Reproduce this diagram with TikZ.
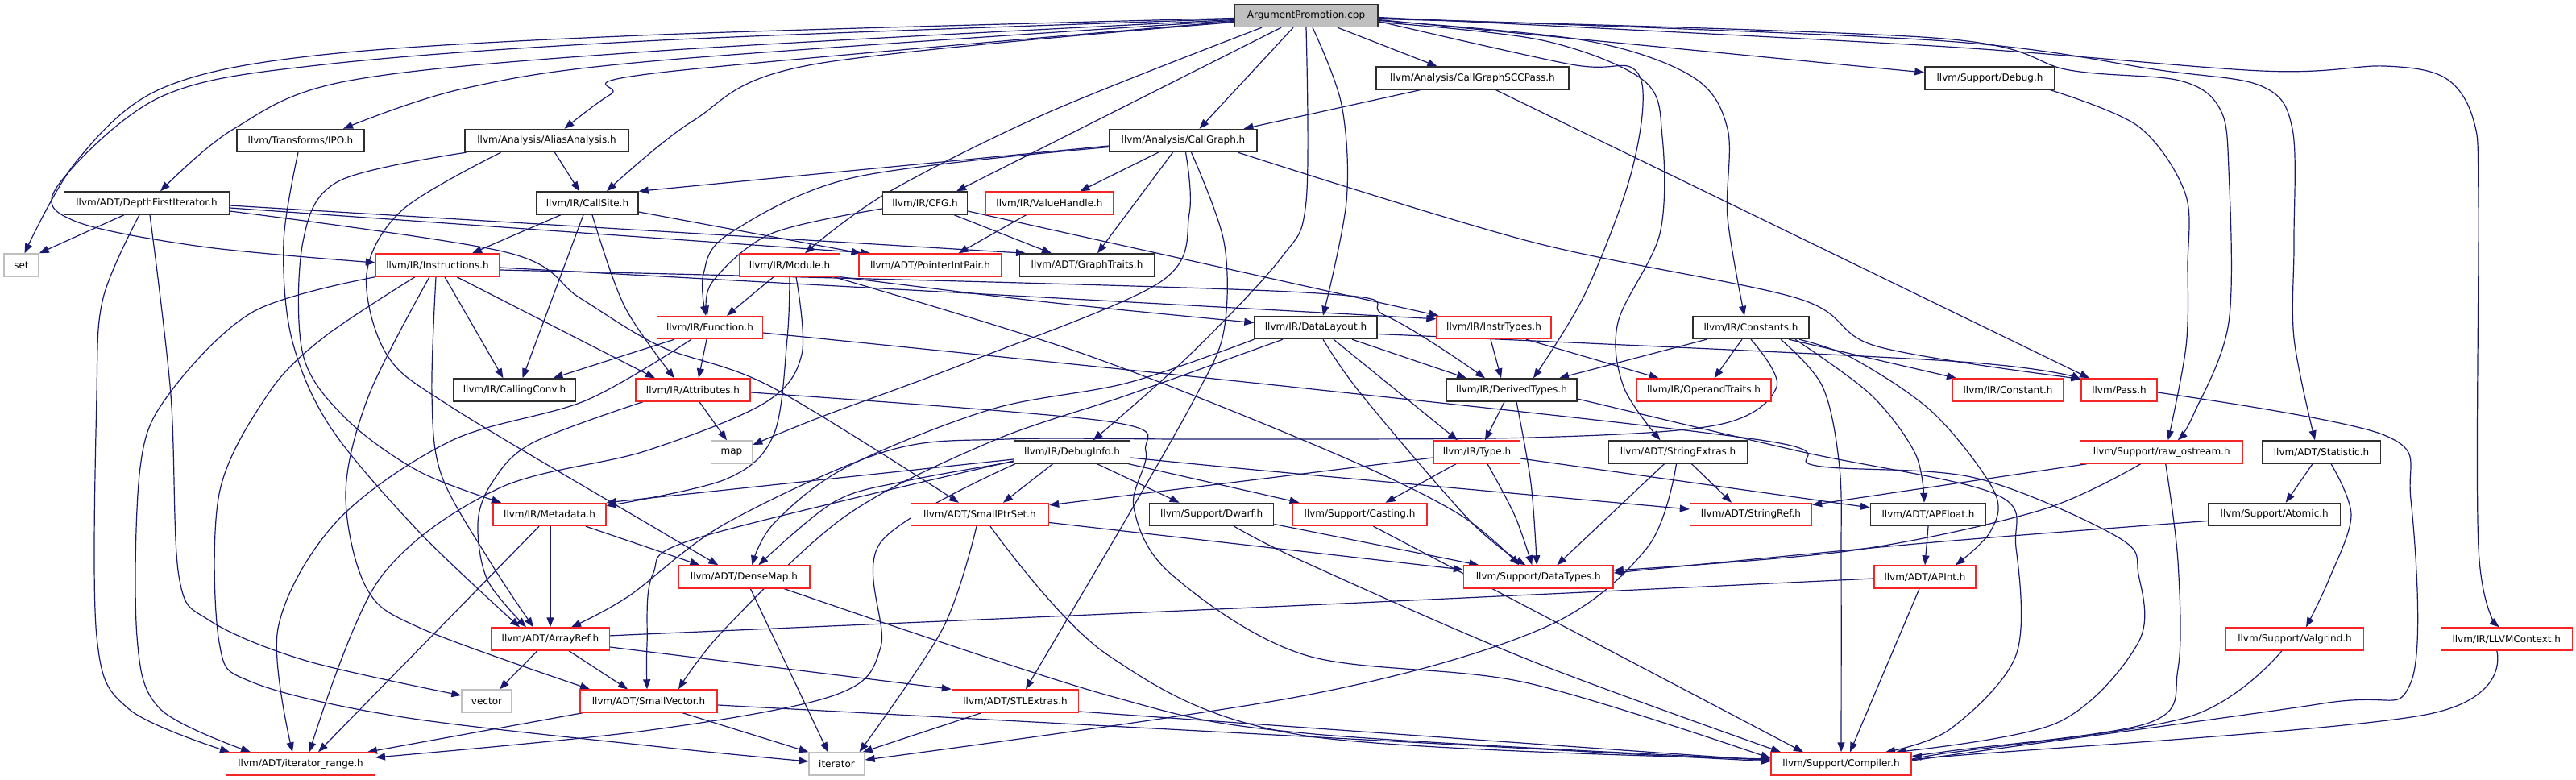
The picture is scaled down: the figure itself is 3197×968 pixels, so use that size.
\documentclass[tikz,border=0pt]{standalone}
\usepackage{fontspec}
\setmainfont{DejaVu Sans}
\usetikzlibrary{arrows.meta}
\definecolor{edgec}{HTML}{191970}
\definecolor{nred}{HTML}{F52525}
\definecolor{nblk}{HTML}{2E2E2E}
\definecolor{ngry}{HTML}{BFBFBF}
\pgfdeclarelayer{bg}
\pgfsetlayers{bg,main}
\tikzset{
  nd/.style={draw=nblk, line width=1.4pt, minimum height=28pt, inner sep=0pt, fill=white, font=\fontsize{12}{14}\selectfont},
  bk/.style={nd},
  rd/.style={nd, draw=nred},
  gr/.style={nd, draw=ngry},
  e/.style={draw=edgec, line width=1.2pt, -{Triangle[length=12pt,width=9pt]}},
}
\newcommand\edg[1]{\draw[e] plot[smooth,tension=.55] coordinates {#1};}
\begin{document}
\begin{tikzpicture}[x=1pt,y=-1pt]
\useasboundingbox (0,0) rectangle (3197,968);
% nodes
\node[bk, fill=ngry, minimum width=178pt] (root) at (1621,19.5) {ArgumentPromotion.cpp};
\node[bk, minimum width=239pt] (sccpass) at (1827.5,97) {llvm/Analysis/CallGraphSCCPass.h};
\node[bk, minimum width=161pt] (debug) at (2469.5,97) {llvm/Support/Debug.h};
\node[bk, minimum width=158pt] (ipo) at (373,174.5) {llvm/Transforms/IPO.h};
\node[bk, minimum width=203pt] (alias) at (678.5,174.5) {llvm/Analysis/AliasAnalysis.h};
\node[bk, minimum width=183pt] (callgraph) at (1468.5,174.5) {llvm/Analysis/CallGraph.h};
\node[bk, minimum width=205pt] (dfi) at (182,252) {llvm/ADT/DepthFirstIterator.h};
\node[bk, minimum width=126pt] (callsite) at (729,252) {llvm/IR/CallSite.h};
\node[bk, minimum width=105pt] (cfg) at (1148,252) {llvm/IR/CFG.h};
\node[rd, minimum width=159pt] (vh) at (1302.5,252) {llvm/IR/ValueHandle.h};
\node[gr, minimum width=43pt] (set) at (26.5,329) {set};
\node[rd, minimum width=153pt] (instr) at (543,329) {llvm/IR/Instructions.h};
\node[rd, minimum width=125pt] (module) at (980,329) {llvm/IR/Module.h};
\node[rd, minimum width=177pt] (pip) at (1154.5,329) {llvm/ADT/PointerIntPair.h};
\node[bk, minimum width=167pt] (gt) at (1349,329) {llvm/ADT/GraphTraits.h};
\node[rd, minimum width=131pt] (func) at (881,406.5) {llvm/IR/Function.h};
\node[bk, minimum width=152pt] (dl) at (1633,406.5) {llvm/IR/DataLayout.h};
\node[rd, minimum width=142pt] (instrtypes) at (1854,406.5) {llvm/IR/InstrTypes.h};
\node[bk, minimum width=144pt] (constants) at (2173,406.5) {llvm/IR/Constants.h};
\node[bk, minimum width=151pt] (cc) at (638.5,484) {llvm/IR/CallingConv.h};
\node[rd, minimum width=142pt] (attr) at (860,484) {llvm/IR/Attributes.h};
\node[bk, minimum width=162pt] (dt) at (1876,484) {llvm/IR/DerivedTypes.h};
\node[rd, minimum width=167pt] (ot) at (2114.5,484) {llvm/IR/OperandTraits.h};
\node[rd, minimum width=138pt] (constant) at (2492,484) {llvm/IR/Constant.h};
\node[rd, minimum width=94pt] (pass) at (2630,484) {llvm/Pass.h};
\node[gr, minimum width=51pt] (map) at (908,561) {map};
\node[bk, minimum width=144pt] (di) at (1330.6,561) {llvm/IR/DebugInfo.h};
\node[rd, minimum width=107pt] (type) at (1833,561) {llvm/IR/Type.h};
\node[bk, minimum width=172pt] (se) at (2082.5,561) {llvm/ADT/StringExtras.h};
\node[rd, minimum width=202pt] (ro) at (2682.7,561) {llvm/Support/raw\_ostream.h};
\node[bk, minimum width=147pt] (stat) at (2881,561) {llvm/ADT/Statistic.h};
\node[rd, minimum width=140pt] (md) at (682,638.5) {llvm/IR/Metadata.h};
\node[rd, minimum width=171pt] (sps) at (1216,638.5) {llvm/ADT/SmallPtrSet.h};
\node[bk, minimum width=154pt] (dwarf) at (1503.7,638.5) {llvm/Support/Dwarf.h};
\node[rd, minimum width=167pt] (casting) at (1687.5,638.5) {llvm/Support/Casting.h};
\node[rd, minimum width=151pt] (sr) at (2173,638.5) {llvm/ADT/StringRef.h};
\node[bk, minimum width=143pt] (apf) at (2393,638.5) {llvm/ADT/APFloat.h};
\node[bk, minimum width=164pt] (atomic) at (2822.7,638.5) {llvm/Support/Atomic.h};
\node[rd, minimum width=163pt] (dm) at (923.4,716) {llvm/ADT/DenseMap.h};
\node[rd, minimum width=185.5pt] (dtypes) at (1909.3,716) {llvm/Support/DataTypes.h};
\node[rd, minimum width=126pt] (apint) at (2389,716) {llvm/ADT/APInt.h};
\node[rd, minimum width=147pt] (ar) at (683,793) {llvm/ADT/ArrayRef.h};
\node[rd, minimum width=171pt] (valgrind) at (2848,793) {llvm/Support/Valgrind.h};
\node[rd, minimum width=163pt] (ctx) at (3110.7,793) {llvm/IR/LLVMContext.h};
\node[gr, minimum width=62pt] (vector) at (604,870) {vector};
\node[rd, minimum width=170pt] (sv) at (805,870) {llvm/ADT/SmallVector.h};
\node[rd, minimum width=157pt] (stl) at (1260,870) {llvm/ADT/STLExtras.h};
\node[rd, minimum width=184.5pt] (ir) at (373,948) {llvm/ADT/iterator\_range.h};
\node[gr, minimum width=69pt] (iter) at (1038.5,948) {iterator};
\node[rd, minimum width=174pt] (comp) at (2285,948) {llvm/Support/Compiler.h};
\begin{pgfonlayer}{bg}
% root edges
\edg{([yshift=-3pt]root.west) (820,43) (400,68) (200,110) (95,200) ([xshift=4pt]set.north)}
\edg{([yshift=-4pt]root.west) (820,50) (403,80) (200,120) (72,230) (92,274) (250,306) ([yshift=3pt]instr.west)}
\edg{([yshift=-5pt]root.west) (820,63) (434,100) (290,160) ([xshift=17pt]dfi.north)}
\edg{([yshift=-6pt]root.west) (820,75) (575,110) ([xshift=53pt]ipo.north)}
\edg{([yshift=-7pt]root.west) (820,90) (758,117) ([xshift=22pt]alias.north)}
\edg{([yshift=-8pt]root.west) (1009,80) (860,150) ([xshift=24pt]callsite.north)}
\draw[e] ([xshift=-16pt]root.south) -- ([xshift=20pt]callgraph.north);
\draw[e] ([xshift=-31pt]root.south) -- ([xshift=39pt]cfg.north);
\edg{([xshift=-55pt]root.south) (1300,140) (1100,240) ([xshift=19pt]module.north)}
\edg{([xshift=8pt]root.south) (1665,130) (1671,250) ([xshift=9pt]dl.north)}
\edg{(root.south) (1621,250) (1590,320) (1477,440) ([xshift=26pt]di.north)}
\draw[e] ([xshift=39pt]root.south) -- ([xshift=-44pt]sccpass.north);
\edg{([yshift=-7pt]root.east) (1950,80) (2025,84) (2039,130) (2020,230) (1966,367) ([xshift=27pt]dt.north)}
\edg{([yshift=-8pt]root.east) (1914,50) (2040,100) (2063,170) (2060,290) (2008,400) (2015,480) ([xshift=-22pt]se.north)}
\edg{([yshift=-6pt]root.east) (1966,50) (2100,95) (2144,160) (2144,270) ([xshift=-8pt]constants.north)}
\draw[e] ([yshift=-5pt]root.east) -- ([yshift=7pt]debug.west);
\edg{([yshift=-4pt]root.east) (2400,47) (2568,87) (2705,100) (2755,135) (2766,210) (2766,400) (2722,515) ([xshift=20pt]ro.north)}
\edg{([yshift=-3pt]root.east) (2400,50) (2680,87) (2807,107) (2845,160) (2847,300) (2847,420) ([xshift=-8pt]stat.north)}
\edg{([yshift=-2pt]root.east) (2400,57) (2807,88) (2959,82) (3035,97) (3070,150) (3076,250) (3076,680) ([xshift=-9pt]ctx.north)}
% IPO, AliasAnalysis
\edg{([xshift=-3pt]ipo.south) (352,300) (362,420) (410,530) (520,660) ([xshift=-38pt]ar.north)}
\draw[e] ([xshift=10pt]alias.south) -- ([xshift=-10pt]callsite.north);
\edg{([xshift=-100pt]alias.south) (420,225) (376,300) (376,440) (430,520) (520,585) ([xshift=-60pt]md.north)}
\edg{([xshift=-57pt]alias.south) (500,260) (455,340) (480,440) (560,505) (816,657) ([xshift=-32pt]dm.north)}
% DepthFirstIterator
\draw[e] ([xshift=-28pt]dfi.south) -- (set.north east);
\edg{([xshift=-9pt]dfi.south) (128,370) (120,490) (120,790) (160,880) ([xshift=-88pt]ir.north)}
\edg{([xshift=4pt]dfi.south) (212,490) (222,715) (260,770) (380,820) ([yshift=7pt]vector.west)}
\draw[e] ([yshift=-3pt]dfi.east) -- ([xshift=-76pt]gt.north);
\draw[e] ([yshift=-6pt]dfi.east) -- ([xshift=-74pt]pip.north);
\edg{([yshift=-10pt]dfi.east) (628,313) (720,370) (820,430) (957,480) ([xshift=-26pt]sps.north)}
% CallSite
\draw[e] ([xshift=-33pt]callsite.south) -- ([xshift=43pt]instr.north);
\draw[e] ([xshift=-5pt]callsite.south) -- ([xshift=10pt]cc.north);
\edg{([xshift=6pt]callsite.south) (775,380) ([xshift=-23pt]attr.north)}
\draw[e] ([yshift=-11pt]callsite.east) -- ([xshift=-86pt]pip.north);
% CallGraph
\draw[e] ([yshift=-6.5pt]callgraph.west) -- (callsite.north east);
\edg{([yshift=-8pt]callgraph.west) (1061,220) (905,290) (873,340) ([xshift=-5pt]func.north)}
\draw[e] ([xshift=-31pt]callgraph.south) -- ([xshift=38pt]vh.north);
\draw[e] ([xshift=-13pt]callgraph.south) -- ([xshift=13pt]gt.north);
\edg{([xshift=3pt]callgraph.south) (1476,265) (1440,350) (1200,450) (1020,517) ([yshift=9pt]map.east)}
\edg{([xshift=10pt]callgraph.south) (1519,300) (1519,410) (1485,490) (1400,640) ([xshift=13pt]stl.north)}
\edg{([xshift=68pt]callgraph.south) (1900,300) (2230,370) (2330,430) ([yshift=-1pt]pass.north west)}
% CallGraphSCCPass, Debug
\draw[e] ([xshift=-65pt]sccpass.south) -- ([xshift=75pt]callgraph.north);
\draw[e] ([xshift=29pt]sccpass.south) -- ([xshift=-37pt]pass.north);
\edg{([xshift=75pt]debug.south) (2654,157) (2712,240) (2715,330) (2713,430) ([xshift=8pt]ro.north)}
% CFG, ValueHandle
\edg{([yshift=-7pt]cfg.west) (957,290) (884,350) ([xshift=-3pt]func.north)}
\draw[e] ([xshift=36pt]cfg.south) -- ([xshift=-44pt]gt.north);
\draw[e] ([yshift=-10pt]cfg.east) -- ([xshift=3pt]instrtypes.north west);
\draw[e] ([xshift=-29pt]vh.south) -- ([xshift=35pt]pip.north);
% Instructions
\edg{(instr.south west) (314,387) (209,490) (174,580) (170,790) (199,880) ([xshift=-62pt]ir.north)}
\edg{([xshift=-28pt]instr.south) (400,420) (332,490) (272,613) (272,797) (314,847) (500,890) (820,927) ([yshift=3pt]iter.west)}
\edg{([xshift=-10pt]instr.south) (458,490) (429,613) (455,730) (523,780) ([xshift=-73pt]sv.north)}
\edg{([xshift=-2pt]instr.south) (536,490) (548,590) (610,700) ([xshift=-21pt]ar.north)}
\draw[e] ([xshift=9pt]instr.south) -- ([xshift=-14pt]cc.north);
\draw[e] ([xshift=24pt]instr.south) -- ([xshift=-47pt]attr.north);
\draw[e] ([yshift=-3pt]instr.east) -- ([yshift=-4pt]instrtypes.north west);
\edg{([yshift=-6pt]instr.east) (1600,362) (1720,392) ([xshift=-33pt]dt.north)}
% Module
\draw[e] ([xshift=-20pt]module.south) -- ([xshift=21pt]func.north);
\edg{(module.south) (977,420) (960,540) (900,595) ([yshift=-4pt]md.north east)}
\edg{([xshift=8pt]module.south) (995,440) (949,500) (800,560) (617,607) (470,720) ([xshift=11pt]ir.north)}
\edg{(module.south east) (1300,375) ([yshift=6pt]dl.west)}
\edg{([xshift=55pt]module.south) (1347,440) (1650,560) (1809,637) ([xshift=-24pt]dtypes.north)}
% Function
\draw[e] ([xshift=-44pt]func.south) -- ([xshift=48pt]cc.north);
\edg{([xshift=-23pt]func.south) (727,497) (560,547) (418,647) (345,780) ([xshift=-10pt]ir.north)}
\draw[e] ([xshift=-4pt]func.south) -- ([xshift=7pt]attr.north);
\edg{([yshift=-6.5pt]func.east) (1620,482) (2191,547) (2254,578) (2451,593) (2629,667) (2654,713) (2654,797) (2553,897) ([xshift=68pt]comp.north)}
% DataLayout
\draw[e] ([xshift=45pt]dl.south) -- ([xshift=-56pt]dt.north);
\draw[e] ([xshift=22pt]dl.south) -- ([xshift=-24pt]type.north);
\edg{([xshift=9pt]dl.south) (1690,490) (1825,647) ([xshift=-16pt]dtypes.north)}
\edg{([yshift=-8pt]dl.east) (2420,448) ([yshift=-2pt]pass.north west)}
\edg{(dl.south west) (1400,475) (1230,508) (1050,580) (960,650) ([xshift=10pt]dm.north)}
\edg{([xshift=-41pt]dl.south) (1400,490) (1230,548) (1050,640) (900,780) ([xshift=37pt]sv.north)}
% InstrTypes
\draw[e] ([xshift=-4pt]instrtypes.south) -- ([xshift=-13pt]dt.north);
\draw[e] ([xshift=40pt]instrtypes.south) -- ([xshift=-56pt]ot.north);
% Constants
\draw[e] ([xshift=-55pt]constants.south) -- ([xshift=59pt]dt.north);
\draw[e] ([xshift=-11pt]constants.south) -- ([xshift=13pt]ot.north);
\draw[e] ([xshift=47pt]constants.south) -- ([xshift=-64pt]constant.north);
\edg{([xshift=55pt]constants.south) (2322,490) (2377,563) ([xshift=-5pt]apf.north)}
\edg{([xshift=60pt]constants.south) (2300,445) (2400,513) (2475,610) (2470,660) ([xshift=38pt]apint.north)}
\edg{([xshift=37pt]constants.south) (2262,480) (2283,580) (2285,700) (comp.north)}
\edg{(constants.south) (2205,480) (2133,527) (1900,543) (1500,545) (1250,545) (1100,560) (900,650) (780,740) ([xshift=26pt]ar.north)}
% Attributes
\draw[e] ([xshift=8pt]attr.south) -- ([xshift=-6pt]map.north);
\edg{([xshift=-62pt]attr.south) (660,550) (610,600) (593,650) (605,720) ([xshift=-30pt]ar.north)}
\edg{([yshift=-3pt]attr.east) (1375,523) (1422,560) (1407,630) (1454,713) (1620,813) (1893,847) ([yshift=7pt]comp.west)}
% DerivedTypes
\draw[e] ([xshift=-9pt]dt.south) -- ([xshift=10pt]type.north);
\edg{([xshift=6pt]dt.south) (1900,600) ([xshift=-2pt]dtypes.north)}
\edg{([yshift=-11pt]dt.east) (2233,560) (2476,613) (2502,680) (2502,813) (2420,905) ([xshift=55pt]comp.north)}
% Pass
\edg{([yshift=-3pt]pass.east) (2959,540) (2992,620) (2992,847) (2883,873) (2400,940) ([yshift=2pt]comp.east)}
% DebugInfo
\draw[e] ([xshift=-24pt]di.south) -- ([xshift=29pt]sps.north);
\draw[e] ([xshift=31pt]di.south) -- ([xshift=-40pt]dwarf.north);
\draw[e] ([xshift=70pt]di.south) -- ([xshift=-75pt]casting.north);
\edg{([yshift=-7pt]di.east) (1600,587) ([yshift=6.5pt]sr.west)}
\draw[e] ([yshift=-9pt]di.west) -- (md.north east);
\edg{([yshift=-12pt]di.west) (1124,597) (1035,623) ([xshift=18pt]dm.north)}
\edg{([xshift=2pt]di.south west) (1093,673) (1093,803) (1035,863) (800,907) ([yshift=8pt]ir.east)}
\edg{([yshift=-11pt]di.west) (868,667) (810,713) (803,800) ([xshift=-2pt]sv.north)}
% Type
\draw[e] ([yshift=-7pt]type.west) -- ([yshift=-3pt]sps.north east);
\draw[e] ([xshift=-26pt]type.south) -- ([xshift=32pt]casting.north);
\edg{([xshift=13pt]type.south) (1880,640) ([xshift=-8pt]dtypes.north)}
\draw[e] ([yshift=-8pt]type.east) -- ([yshift=8.5pt]apf.west);
% StringExtras
\draw[e] ([xshift=17pt]se.south) -- ([xshift=-24pt]sr.north);
\draw[e] ([xshift=-17pt]se.south) -- ([xshift=23pt]dtypes.north);
\edg{([xshift=-2pt]se.south) (2044,680) (1914,780) (1620,863) ([yshift=5pt]iter.east)}
% raw_ostream
\draw[e] ([xshift=9pt]ro.south west) -- ([yshift=12pt]sr.east);
\edg{([xshift=-26pt]ro.south) (2533,633) (2300,683) ([yshift=8pt]dtypes.east)}
\edg{([xshift=5pt]ro.south) (2703,697) (2703,830) (2667,897) (2420,932) ([yshift=10pt]comp.east)}
% Statistic, Atomic
\draw[e] ([xshift=-11pt]stat.south) -- ([xshift=14pt]atomic.north);
\edg{([xshift=12pt]stat.south) (2918,640) (2890,720) ([xshift=14pt]valgrind.north)}
\edg{([yshift=-8pt]atomic.west) (2400,673) ([yshift=5pt]dtypes.east)}
% Metadata
\draw[e] ([xshift=1pt]md.south) -- (ar.north);
\draw[e] ([xshift=-13pt]md.south) -- ([xshift=22pt]ir.north);
\draw[e] ([xshift=45pt]md.south) -- ([xshift=-55pt]dm.north);
% SmallPtrSet
\edg{([xshift=-4pt]sps.south) (1170,780) ([xshift=28pt]iter.north)}
\edg{([xshift=13pt]sps.south) (1375,813) (1620,913) ([yshift=6pt]comp.west)}
\draw[e] ([yshift=-10pt]sps.east) -- ([yshift=9pt]dtypes.west);
% Dwarf, Casting
\draw[e] ([yshift=-12pt]dwarf.east) -- ([xshift=-74pt]dtypes.north);
\edg{([xshift=28pt]dwarf.south) (1620,698) (1900,820) ([xshift=-75pt]comp.north)}
\draw[e] ([xshift=17pt]casting.south) -- ([xshift=-47pt]comp.north);
% DenseMap
\draw[e] ([xshift=8pt]dm.south) -- ([xshift=-11pt]iter.north);
\edg{([xshift=50pt]dm.south) (1375,863) (1620,910) ([yshift=5pt]comp.west)}
% APInt, APFloat
\edg{([yshift=-2pt]apint.west) (1600,752) (800,787) ([yshift=4pt]ar.east)}
\draw[e] ([xshift=-7pt]apint.south) -- ([xshift=11pt]comp.north);
\draw[e] (apf.south) -- (apint.north);
% ArrayRef
\draw[e] ([xshift=-16pt]ar.south) -- ([xshift=16pt]vector.north);
\draw[e] ([xshift=23pt]ar.south) -- ([xshift=-26pt]sv.north);
\draw[e] ([yshift=-10pt]ar.east) -- (stl.north west);
% SmallVector, STLExtras
\draw[e] ([xshift=4pt]sv.south west) -- ([xshift=-10pt]ir.north east);
\draw[e] ([xshift=42pt]sv.south) -- (iter.north west);
\draw[e] ([yshift=-5pt]sv.east) -- ([yshift=3pt]comp.west);
\draw[e] ([xshift=-42pt]stl.south) -- ([xshift=-3pt]iter.north east);
\draw[e] ([yshift=-13pt]stl.east) -- ([yshift=4pt]comp.west);
% Valgrind, LLVMContext
\edg{([xshift=-16pt]valgrind.south) (2715,890) (2400,937) ([yshift=2pt]comp.east)}
\edg{([xshift=-12pt]ctx.south) (3010,887) (2400,940) ([yshift=1pt]comp.east)}
\end{pgfonlayer}
\end{tikzpicture}
\end{document}
